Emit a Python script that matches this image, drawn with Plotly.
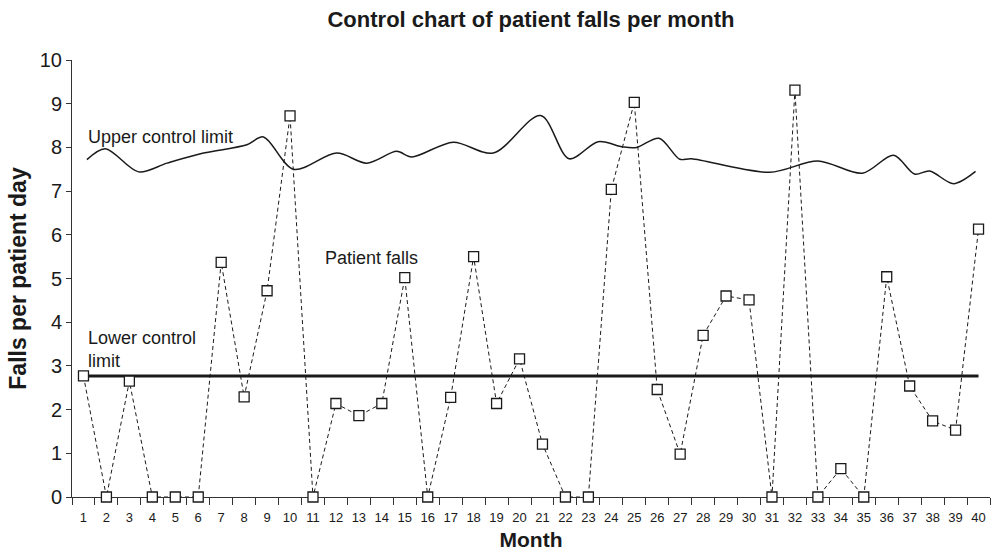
import plotly.graph_objects as go

# ---- data ----
months = list(range(1, 41))
falls = [2.77, 0, 2.65, 0, 0, 0, 5.37, 2.29, 4.72, 8.72,
         0, 2.14, 1.86, 2.14, 5.02, 0, 2.28, 5.50, 2.14, 3.16,
         1.21, 0, 0, 7.04, 9.03, 2.46, 0.98, 3.70, 4.60, 4.51,
         0, 9.31, 0, 0.65, 0, 5.04, 2.54, 1.74, 1.53, 6.13]

ucl_month = [1.15, 1.95, 3.40, 4.64, 6.23, 8.12, 8.84, 10.15, 12.04, 13.34,
             14.65, 15.30, 17.11, 18.85, 20.92, 22.16, 23.43, 24.51, 25.10, 26.08,
             26.98, 27.49, 30.90, 33.00, 34.94, 36.30, 37.21, 37.87, 38.91, 39.87]
ucl_value = [7.72, 7.97, 7.44, 7.64, 7.87, 8.06, 8.24, 7.50, 7.87, 7.64,
             7.91, 7.78, 8.12, 7.87, 8.73, 7.74, 8.13, 8.01, 8.00, 8.21,
             7.73, 7.74, 7.43, 7.69, 7.41, 7.82, 7.39, 7.46, 7.17, 7.45]

lcl_value = 2.77

tick_labels = [str(m) for m in months]

INK = "#1a1a1a"
FONT = "Liberation Sans, Arial, sans-serif"

fig = go.Figure()

fig.add_trace(go.Scatter(
    x=ucl_month, y=ucl_value, mode="lines",
    line=dict(color=INK, width=1.5, shape="spline", smoothing=0.9),
    hoverinfo="skip", showlegend=False))

fig.add_trace(go.Scatter(
    x=[months[0], months[-1]], y=[lcl_value, lcl_value], mode="lines",
    line=dict(color=INK, width=3),
    hoverinfo="skip", showlegend=False))

fig.add_trace(go.Scatter(
    x=months, y=falls, mode="lines+markers",
    line=dict(color=INK, width=1, dash="4px,3px"),
    marker=dict(symbol="square", size=10, color="white",
                line=dict(color=INK, width=1.3)),
    cliponaxis=False, showlegend=False))

fig.update_layout(
    width=994, height=557,
    margin=dict(l=72, r=4, t=60, b=60),
    paper_bgcolor="white", plot_bgcolor="white",
    font=dict(family=FONT, color=INK),
    title=dict(text="<b>Control chart of patient falls per month</b>",
               x=0.5, xref="paper", y=1 - 19 / 557, yref="container",
               xanchor="center", yanchor="middle",
               font=dict(size=22, family=FONT, color=INK)),
    xaxis=dict(range=[0.5, 40.5], tickvals=months, ticktext=tick_labels,
               ticks="", showline=True, linecolor="#333", linewidth=1,
               showgrid=False, zeroline=False, layer="below traces",
               tickfont=dict(size=13, family=FONT),
               ticklabelstandoff=8,
               minor=dict(ticks="outside", tick0=0.5, dtick=1, ticklen=7,
                          tickcolor="#333", tickwidth=1, showgrid=False),
               title=dict(text="<b>Month</b>", font=dict(size=21), standoff=8),
               automargin=False),
    yaxis=dict(range=[0, 10], dtick=1, ticks="outside", ticklen=5,
               tickcolor="#333", showline=True, linecolor="#333", linewidth=1,
               showgrid=False, zeroline=False, layer="below traces",
               tickfont=dict(size=20),
               title=dict(text="<b>Falls per patient day</b>", font=dict(size=23), standoff=6),
               automargin=False),
    annotations=[
        dict(text="Upper control limit", x=1.12, y=8.24, xref="x", yref="y",
             xanchor="left", yanchor="middle", showarrow=False,
             font=dict(size=18, family=FONT, color=INK)),
        dict(text="Patient falls", x=11.45, y=5.48, xref="x", yref="y",
             xanchor="left", yanchor="middle", showarrow=False,
             font=dict(size=18, family=FONT, color=INK)),
        dict(text="Lower control<br>limit", x=1.12, y=3.37, xref="x", yref="y",
             xanchor="left", yanchor="middle", align="left", showarrow=False,
             font=dict(size=18, family=FONT, color=INK)),
    ],
)

fig.write_html("out.html", config={"displayModeBar": False},
               post_script="document.body.style.margin='0';")
